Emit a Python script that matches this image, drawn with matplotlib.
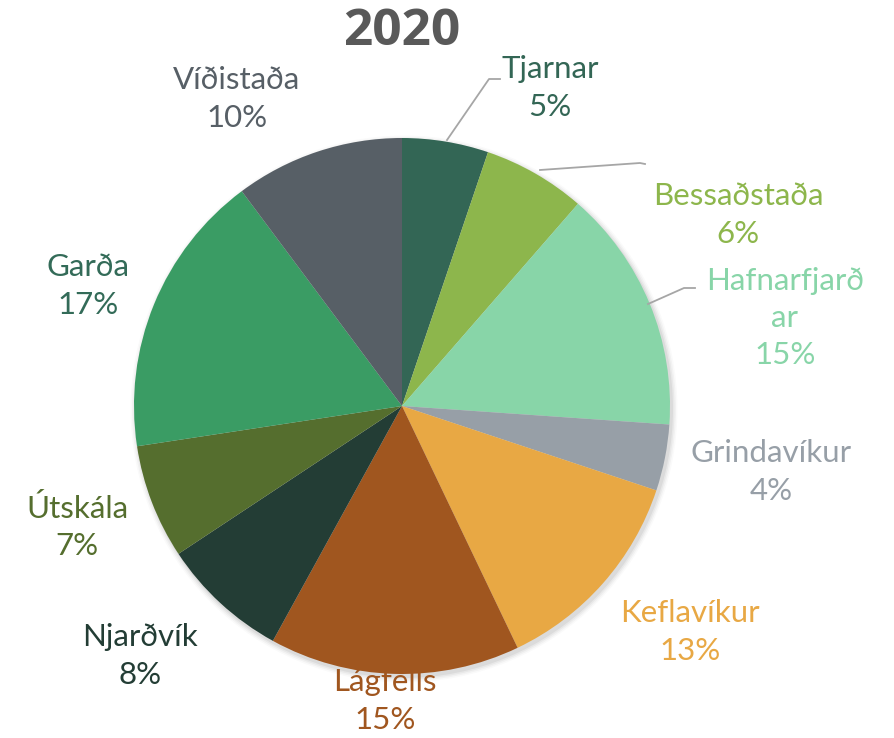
import numpy as np
import matplotlib.pyplot as plt

# share of each school, 2020 (clockwise from top)
names = ['Tjarnar', 'Bessaðstaða', 'Hafnarfjarð\nar', 'Grindavíkur', 'Keflavíkur',
         'Lágfells', 'Njarðvík', 'Útskála', 'Garða', 'Víðistaða']
shares = [5.2, 6.2, 14.7, 4.0, 12.8, 15.1, 7.7, 6.9, 17.2, 10.2]
pct_labels = ['5%', '6%', '15%', '4%', '13%', '15%', '8%', '7%', '17%', '10%']
slice_colors = ['#336655', '#8DB64C', '#88D5A8', '#979FA7', '#E8A844',
                '#A0561F', '#233D35', '#556E2E', '#3A9C64', '#575F66']
label_colors = ['#336655', '#8DB64C', '#88D5A8', '#979FA7', '#E8A844',
                '#A0561F', '#233D35', '#556E2E', '#336B58', '#575F66']

W, H = 894, 738
# label centres in pixel coords (x, y from top)
label_pos = [(550, 88), (738, 215), (785, 318), (771, 472), (690, 632),
             (385, 701), (140, 656), (77, 527), (88, 286), (237, 99)]
# leader lines (pixel coords) for the labels that have one
leaders = {0: [(447, 140), (489, 79), (500, 79)],
           1: [(540, 170), (640, 163), (645, 164)],
           2: [(648, 304), (684, 288), (695, 288)]}

fig = plt.figure(figsize=(W / 100, H / 100), dpi=100)
ax = fig.add_axes([0, 0, 1, 1])

cx, cy, r = 402, H - 406, 268

# faint shadow under the pie
for k, a in enumerate([0.05, 0.04, 0.03, 0.02]):
    ax.add_patch(plt.Circle((cx + 2, cy - 3), r + 1 + k * 1.5, color='black',
                            alpha=a, lw=0, zorder=1))

wedges, _ = ax.pie(shares, colors=slice_colors, startangle=90, counterclock=False,
                   center=(cx, cy), radius=r, wedgeprops=dict(linewidth=0))
for w in wedges:
    w.set_zorder(3)

for i, (x, y) in enumerate(label_pos):
    ax.text(x, H - y, names[i] + '\n' + pct_labels[i], ha='center', va='center',
            color=label_colors[i], fontsize=22.5, family='Lato', linespacing=1.4,
            zorder=2)

for pts in leaders.values():
    xs = [p[0] for p in pts]
    ys = [H - p[1] for p in pts]
    ax.plot(xs, ys, color='#A6A6A6', lw=1.3, zorder=4)

ax.text(402, H - 32, '2020', ha='center', va='center', fontsize=37,
        fontweight='bold', family='Open Sans', color='#595959')

ax.set_xlim(0, W)
ax.set_ylim(0, H)
ax.set_aspect('equal')
ax.axis('off')

fig.savefig('out.png', dpi=100)
